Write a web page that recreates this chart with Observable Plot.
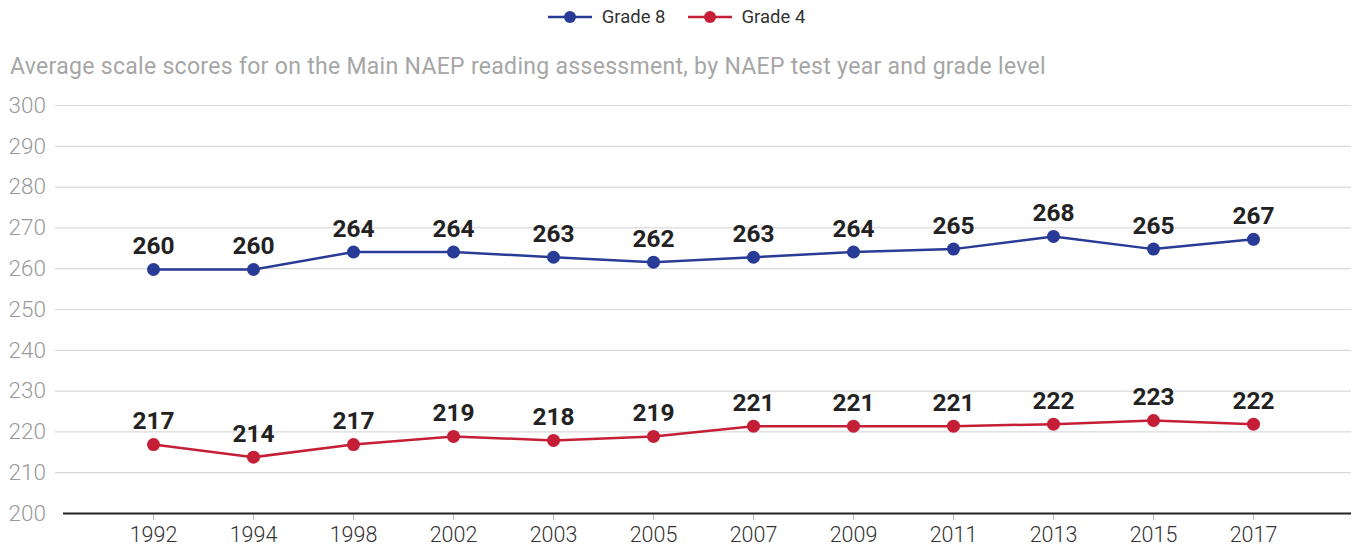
<!DOCTYPE html>
<html>
<head>
<meta charset="utf-8">
<script src="https://cdn.jsdelivr.net/npm/d3@7"></script>
<script src="https://cdn.jsdelivr.net/npm/@observablehq/plot@0.6"></script>
<style>
  body { margin: 0; background: #fff; font-family: Roboto, "Liberation Sans", sans-serif; width: 1353px; height: 550px; overflow: hidden; }
  #legend { height: 34px; display: flex; justify-content: center; align-items: center; gap: 22px; font-size: 18.5px; color: #333; }
  .item { display: flex; align-items: center; gap: 10px; }
  #subtitle { position: absolute; left: 10px; top: 53px; font-size: 23px; letter-spacing: 0.3px; color: #a6a6a6; font-weight: 400; white-space: nowrap; }
  #chart { position: absolute; left: 0; top: 85px; }
</style>
</head>
<body>
<div id="legend"></div>
<div id="subtitle">Average scale scores for on the Main NAEP reading assessment, by NAEP test year and grade level</div>
<div id="chart"></div>
<script>
const years = ["1992","1994","1998","2002","2003","2005","2007","2009","2011","2013","2015","2017"];
const grade8 = [259.8, 259.8, 264.1, 264.1, 262.8, 261.6, 262.8, 264.1, 264.8, 267.9, 264.8, 267.2];
const grade8Labels = [260, 260, 264, 264, 263, 262, 263, 264, 265, 268, 265, 267];
const grade4 = [216.9, 213.8, 216.9, 218.9, 217.9, 218.9, 221.4, 221.4, 221.4, 221.9, 222.8, 221.9];
const grade4Labels = [217, 214, 217, 219, 218, 219, 221, 221, 221, 222, 223, 222];
const seriesNames = ["Grade 8", "Grade 4"];
const colors = ["#283b96", "#c41f36"];
const yTicks = [200, 210, 220, 230, 240, 250, 260, 270, 280, 290, 300];

const data = [];
years.forEach((y, i) => {
  data.push({year: y, value: grade8[i], label: grade8Labels[i], series: seriesNames[0]});
  data.push({year: y, value: grade4[i], label: grade4Labels[i], series: seriesNames[1]});
});

// legend
const legend = document.getElementById("legend");
seriesNames.forEach((s, i) => {
  const it = document.createElement("div");
  it.className = "item";
  it.innerHTML = `<svg width="44" height="14"><line x1="0" x2="44" y1="7" y2="7" stroke="${colors[i]}" stroke-width="2.5"/><circle cx="22" cy="7" r="6" fill="${colors[i]}"/></svg><span>${s}</span>`;
  legend.appendChild(it);
});

const plot = Plot.plot({
  width: 1353,
  height: 465,
  marginLeft: 55,
  marginRight: 2,
  marginTop: 20,
  marginBottom: 37,
  style: { fontFamily: "Roboto, 'Liberation Sans', sans-serif", background: "transparent" },
  x: { type: "point", domain: years, padding: 0.98, label: null },
  y: { domain: [200, 300], label: null },
  color: { domain: seriesNames, range: colors },
  marks: [
    Plot.gridY(yTicks.filter(d => d > 200), { stroke: "#d9d9d9", strokeOpacity: 1, strokeWidth: 1.2 }),
    Plot.axisY(yTicks, { tickSize: 0, tickPadding: 0, textAnchor: "start", dx: -47, fontSize: 22.5, fill: "#9a9a9a", fontWeight: 300, label: null }),
    Plot.axisX({ tickSize: 7, stroke: "#bbb", tickPadding: 6, fontSize: 21.5, fill: "#333", fontWeight: 300, label: null }),
    Plot.ruleY([200], { stroke: "#222", strokeWidth: 2.2, insetLeft: 8 }),
    Plot.line(data, { x: "year", y: "value", z: "series", stroke: "series", strokeWidth: 2.5 }),
    Plot.dot(data, { x: "year", y: "value", fill: "series", r: 6.5 }),
    Plot.text(data, { x: "year", y: "value", text: "label", dy: -23, fontSize: 24.5, fontWeight: "bold", fill: "#222" })
  ]
});
document.getElementById("chart").appendChild(plot);
</script>
</body>
</html>
